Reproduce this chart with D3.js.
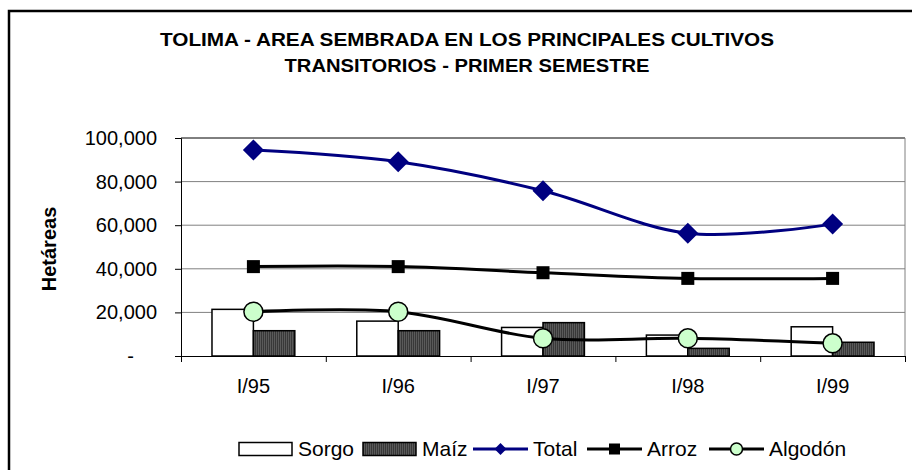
<!DOCTYPE html>
<html>
<head>
<meta charset="utf-8">
<script src="https://cdn.jsdelivr.net/npm/d3@7"></script>
<style>
  body { margin: 0; background: #fff; }
  svg { display: block; font-family: "Liberation Sans", Arial, sans-serif; }
</style>
</head>
<body>
<svg id="chart" width="912" height="470"></svg>
<script>
// data (hectareas)
var categories = ["I/95", "I/96", "I/97", "I/98", "I/99"];
var sorgo   = [21400, 16000, 13100, 9600, 13400];
var maiz    = [11600, 11600, 15300, 3500, 6300];
var total   = [94500, 89100, 75800, 56300, 60500];
var arroz   = [41000, 41000, 38200, 35600, 35600];
var algodon = [20300, 20300, 8100, 8100, 5800];
var yTicks  = [0, 20000, 40000, 60000, 80000, 100000];
var titleLines = ["TOLIMA - AREA SEMBRADA EN LOS PRINCIPALES CULTIVOS",
                  "TRANSITORIOS - PRIMER SEMESTRE"];
var titleWidths = [614, 365];

var svg = d3.select("#chart");
var plotL = 181, plotR = 905, plotT = 138, plotB = 356;

// outer frame, runs off the right and bottom edges
svg.append("rect").attr("x", 9).attr("y", 11).attr("width", 1000).attr("height", 1000)
  .attr("fill", "none").attr("stroke", "#000").attr("stroke-width", 2.5);

// title
svg.selectAll("text.title").data(titleLines).enter().append("text")
  .attr("class", "title")
  .attr("x", 467).attr("y", function(d, i) { return 46 + i * 26; })
  .attr("text-anchor", "middle").attr("font-weight", "bold").attr("font-size", 19)
  .attr("textLength", function(d, i) { return titleWidths[i]; })
  .attr("lengthAdjust", "spacingAndGlyphs")
  .text(function(d) { return d; });

var x0 = d3.scaleBand().domain(categories).range([plotL, plotR])
  .paddingInner(0.428).paddingOuter(0.214);
var x1 = d3.scaleBand().domain(["sorgo", "maiz"]).range([0, x0.bandwidth()]);
var y = d3.scaleLinear().domain([0, 100000]).range([plotB, plotT]);
var cx = function(i) { return x0(categories[i]) + x0.bandwidth() / 2; };

// pattern for the maiz bars
var pat = svg.append("defs").append("pattern").attr("id", "maizPat")
  .attr("patternUnits", "userSpaceOnUse").attr("width", 2).attr("height", 2);
pat.append("rect").attr("width", 2).attr("height", 2).attr("fill", "#383838");
pat.append("rect").attr("width", 1).attr("height", 2).attr("fill", "#5a5a5a");

// gridlines
svg.append("g").selectAll("line").data(yTicks.slice(1, -1)).enter().append("line")
  .attr("x1", plotL).attr("x2", plotR)
  .attr("y1", function(d) { return y(d); }).attr("y2", function(d) { return y(d); })
  .attr("stroke", "#808080").attr("stroke-width", 1);
svg.append("line").attr("x1", plotL).attr("x2", plotR).attr("y1", y(100000)).attr("y2", y(100000))
  .attr("stroke", "#000");
svg.append("line").attr("x1", plotR).attr("x2", plotR).attr("y1", plotT).attr("y2", plotB)
  .attr("stroke", "#808080");

// y axis
var yAxis = svg.append("g").attr("transform", "translate(" + plotL + ",0)")
  .call(d3.axisLeft(y).tickValues(yTicks).tickSize(6).tickPadding(18)
    .tickFormat(function(d) { return d === 0 ? "-" : d3.format(",")(d); }));
yAxis.select(".domain").attr("stroke", "#000");
yAxis.selectAll("text").attr("font-size", 20).attr("fill", "#000")
  .attr("font-family", "Liberation Sans, Arial, sans-serif");
yAxis.selectAll(".tick").filter(function(d) { return d === 0; }).select("text").attr("dx", -23);

// x axis: ticks between categories, labels centred
var xb = d3.scaleLinear().domain([0, categories.length]).range([plotL, plotR]);
var xTicks = svg.append("g").attr("transform", "translate(0," + plotB + ")")
  .call(d3.axisBottom(xb).ticks(categories.length).tickSize(6).tickFormat(""));
xTicks.select(".domain").attr("stroke", "#000");
var xLab = svg.append("g").attr("transform", "translate(0," + plotB + ")")
  .call(d3.axisBottom(x0).tickSize(0).tickPadding(23));
xLab.select(".domain").remove();
xLab.selectAll("text").attr("font-size", 20).attr("fill", "#000")
  .attr("font-family", "Liberation Sans, Arial, sans-serif");

// y title
svg.append("text").attr("transform", "translate(49,249) rotate(-90)")
  .attr("text-anchor", "middle").attr("dy", "0.35em")
  .attr("font-weight", "bold").attr("font-size", 20).text("Hetáreas");

// bars
var bars = svg.append("g");
bars.selectAll("rect.sorgo").data(sorgo).enter().append("rect")
  .attr("x", function(d, i) { return x0(categories[i]) + x1("sorgo"); })
  .attr("y", function(d) { return y(d); })
  .attr("width", x1.bandwidth()).attr("height", function(d) { return y(0) - y(d); })
  .attr("fill", "#fff").attr("stroke", "#000").attr("stroke-width", 1.5);
bars.selectAll("rect.maiz").data(maiz).enter().append("rect")
  .attr("x", function(d, i) { return x0(categories[i]) + x1("maiz"); })
  .attr("y", function(d) { return y(d); })
  .attr("width", x1.bandwidth()).attr("height", function(d) { return y(0) - y(d); })
  .attr("fill", "url(#maizPat)").attr("stroke", "#000").attr("stroke-width", 1.5);

// smoothed lines
var line = d3.line().x(function(d, i) { return cx(i); }).y(function(d) { return y(d); })
  .curve(d3.curveCardinal.tension(0));

function diamond(r) { return "M0," + (-r) + "L" + r + ",0L0," + r + "L" + (-r) + ",0Z"; }

var series = [
  { name: "Total", values: total, color: "#000080" },
  { name: "Arroz", values: arroz, color: "#000" },
  { name: "Algodón", values: algodon, color: "#000" }
];
series.forEach(function(s) {
  svg.append("path").datum(s.values).attr("d", line)
    .attr("fill", "none").attr("stroke", s.color).attr("stroke-width", 3);
});

function marker(g, name, big) {
  if (name === "Total") {
    g.append("path").attr("d", diamond(big ? 10.5 : 6)).attr("fill", "#000080");
  } else if (name === "Arroz") {
    var s = big ? 13 : 11;
    g.append("rect").attr("x", -s / 2).attr("y", -s / 2).attr("width", s).attr("height", s).attr("fill", "#000");
  } else {
    g.append("circle").attr("r", big ? 9.5 : 6).attr("fill", "#ccffcc")
      .attr("stroke", "#000").attr("stroke-width", 1.5);
  }
}
series.forEach(function(s) {
  s.values.forEach(function(v, i) {
    var g = svg.append("g").attr("transform", "translate(" + cx(i) + "," + y(v) + ")");
    marker(g, s.name, true);
  });
});

// legend
var ly = 449;
var legend = svg.append("g").attr("font-size", 21);
legend.append("rect").attr("x", 239).attr("y", ly - 6.5).attr("width", 53).attr("height", 13)
  .attr("fill", "#fff").attr("stroke", "#000").attr("stroke-width", 1.5);
legend.append("text").attr("x", 298).attr("y", ly).attr("dy", "0.35em").text("Sorgo");
legend.append("rect").attr("x", 363).attr("y", ly - 6.5).attr("width", 53).attr("height", 13)
  .attr("fill", "url(#maizPat)").attr("stroke", "#000").attr("stroke-width", 1.5);
legend.append("text").attr("x", 422).attr("y", ly).attr("dy", "0.35em").text("Maíz");

var lineItems = [
  { name: "Total", x: 473, color: "#000080" },
  { name: "Arroz", x: 587, color: "#000" },
  { name: "Algodón", x: 709, color: "#000" }
];
lineItems.forEach(function(it) {
  legend.append("line").attr("x1", it.x).attr("x2", it.x + 55).attr("y1", ly).attr("y2", ly)
    .attr("stroke", it.color).attr("stroke-width", 3);
  var g = legend.append("g").attr("transform", "translate(" + (it.x + 27.5) + "," + ly + ")");
  marker(g, it.name, false);
  legend.append("text").attr("x", it.x + 60).attr("y", ly).attr("dy", "0.35em").text(it.name);
});
</script>
</body>
</html>
